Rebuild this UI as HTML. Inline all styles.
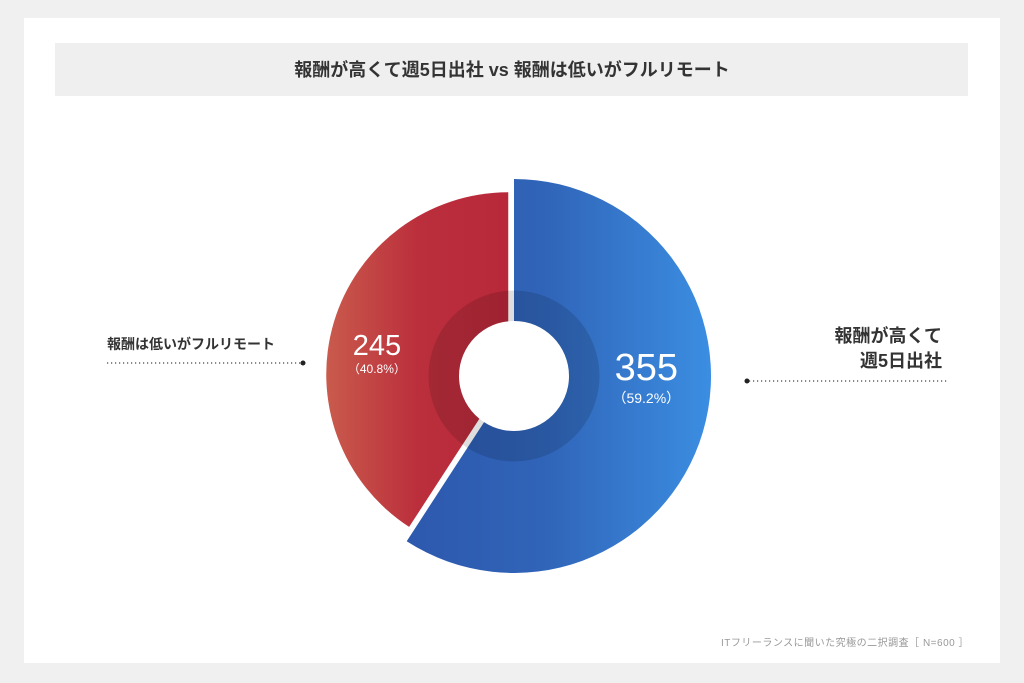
<!DOCTYPE html>
<html><head><meta charset="utf-8">
<style>
html,body{margin:0;padding:0;width:1024px;height:683px;background:#f0f0f0;overflow:hidden}
svg{display:block;font-family:"Liberation Sans","Noto Sans CJK JP",sans-serif}
.num{font-family:"Liberation Sans Narrow","Liberation Sans",sans-serif}
</style></head>
<body>
<svg id="chart" width="1024" height="683" viewBox="0 0 1024 683">
<defs>
<linearGradient id="gBlue" gradientUnits="userSpaceOnUse" x1="405" y1="0" x2="712" y2="0">
<stop offset="0" stop-color="#2d58ad"/><stop offset="0.45" stop-color="#3064b8"/><stop offset="1" stop-color="#3b8ee2"/></linearGradient>
<linearGradient id="gRed" gradientUnits="userSpaceOnUse" x1="328" y1="0" x2="506" y2="0">
<stop offset="0" stop-color="#c95a4c"/><stop offset="0.5" stop-color="#bb2f3c"/><stop offset="1" stop-color="#b8283a"/></linearGradient>
</defs>
<rect x="24" y="18" width="976" height="645" fill="#ffffff"/>
<rect x="55" y="43" width="913" height="53" fill="#efefef"/>
<text x="512" y="76" text-anchor="middle" font-size="18" font-weight="bold" fill="#333">報酬が高くて週5日出社 vs 報酬は低いがフルリモート</text>
<g id="slices"></g>
<circle cx="514" cy="376" r="70" fill="none" stroke="rgba(0,0,0,0.13)" stroke-width="31"/>
<circle cx="514" cy="376" r="55" fill="#fff"/>
<g id="labels"></g>
<text x="107" y="349" font-size="14" font-weight="bold" fill="#333">報酬は低いがフルリモート</text>
<line x1="107" y1="363" x2="301" y2="363" stroke="#444" stroke-width="1.2" stroke-dasharray="1.2,2.8"/>
<circle cx="303" cy="363" r="2.5" fill="#222"/>
<text x="942" y="342" text-anchor="end" font-size="18" font-weight="bold" fill="#333">報酬が高くて</text>
<text x="942" y="367" text-anchor="end" font-size="18" font-weight="bold" fill="#333">週5日出社</text>
<line x1="749" y1="381" x2="949" y2="381" stroke="#444" stroke-width="1.2" stroke-dasharray="1.2,2.8"/>
<circle cx="747" cy="381" r="2.5" fill="#222"/>
<text x="969" y="646" text-anchor="end" font-size="10" fill="#999" letter-spacing="0.5">ITフリーランスに聞いた究極の二択調査［ N=600 ］</text>
</svg>
<script>
const categories = ["報酬が高くて週5日出社", "報酬は低いがフルリモート"];
const values = [355, 245];
const percentLabels = ["59.2%", "40.8%"];

const cx = 514, cy = 376;
const radii = [197, 182];
const fills = ["url(#gBlue)", "url(#gRed)"];
const offsets = [0, 6];
const labelR = [138, 143];
const bigY = [380, 355], smallY = [403, 373];
const bigSize = [38, 29], smallSize = [14, 12];
const ns = "http://www.w3.org/2000/svg";
const total = values.reduce((a, b) => a + b, 0);
function pt(a, r, ox, oy) { return [cx + ox + r * Math.sin(a), cy + oy - r * Math.cos(a)]; }
const gS = document.getElementById('slices');
const gL = document.getElementById('labels');
let start = 0;
values.forEach((v, i) => {
  const sweep = v / total * 2 * Math.PI;
  const end = start + sweep;
  const mid = start + sweep / 2;
  const ox = offsets[i] * Math.sin(mid), oy = -offsets[i] * Math.cos(mid);
  const r = radii[i];
  const p0 = pt(start, r, ox, oy), p1 = pt(end, r, ox, oy);
  const c = [cx + ox, cy + oy];
  const path = document.createElementNS(ns, 'path');
  path.setAttribute('d', `M${c[0]},${c[1]} L${p0[0]},${p0[1]} A${r},${r} 0 ${sweep > Math.PI ? 1 : 0} 1 ${p1[0]},${p1[1]} Z`);
  path.setAttribute('fill', fills[i]);
  
  
  gS.appendChild(path);
  const lx = cx + labelR[i] * Math.sin(mid);
  const t1 = document.createElementNS(ns, 'text');
  t1.setAttribute('x', lx); t1.setAttribute('y', bigY[i]);
  t1.setAttribute('text-anchor', 'middle'); t1.setAttribute('font-size', bigSize[i]);
  t1.setAttribute('fill', '#fff'); t1.setAttribute('class', 'num');
  t1.textContent = values[i];
  
  
  gL.appendChild(t1);
  const t2 = document.createElementNS(ns, 'text');
  t2.setAttribute('x', lx); t2.setAttribute('y', smallY[i]);
  t2.setAttribute('text-anchor', 'middle'); t2.setAttribute('font-size', smallSize[i]);
  t2.setAttribute('fill', '#fff');
  t2.textContent = '（' + percentLabels[i] + '）';
  
  
  gL.appendChild(t2);
  start = end;
});
</script>
</body></html>
